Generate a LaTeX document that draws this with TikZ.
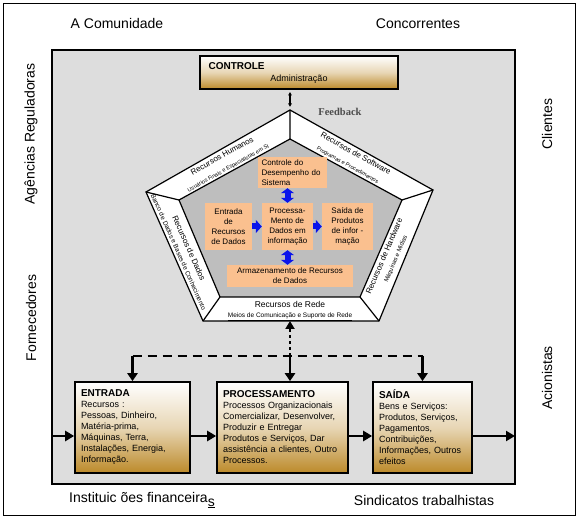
\documentclass[tikz,border=0pt]{standalone}
\usepackage{fontspec}
\setmainfont{Liberation Sans}
\newfontfamily\serifface{Liberation Serif}
\usetikzlibrary{arrows.meta}
\definecolor{bggray}{RGB}{221,221,221}
\definecolor{pentgray}{RGB}{190,190,190}
\definecolor{peach}{RGB}{250,192,143}
\definecolor{gold}{RGB}{188,138,42}
\definecolor{flowblue}{RGB}{10,20,235}

\begin{document}
\begin{tikzpicture}[x=1pt,y=-1pt]
        \tikzset{
    side/.style={font=\fontsize{14}{16}\selectfont},
    bandbig/.style={font=\fontsize{8}{9}\selectfont, inner sep=0pt},
    bandsmall/.style={font=\fontsize{5.5}{6}\selectfont, inner sep=0pt},
    peachbox/.style={fill=peach, align=center, inner sep=0pt, font=\fontsize{8}{10}\selectfont},
    stage/.style={draw, line width=1.6pt, top color=white, bottom color=gold, middle color=gold!35, align=left, inner xsep=6pt, minimum height=91pt, font=\fontsize{9}{11}\selectfont},
    flow/.style={line width=2.6pt, -{Triangle[length=9pt,width=10pt]}},
    dataflow/.style={line width=6pt, flowblue, -{Triangle[length=6pt,width=13pt]}},
    datadbl/.style={line width=6pt, flowblue, {Triangle[length=5pt,width=13pt]}-{Triangle[length=5pt,width=13pt]}},
    fbdash/.style={line width=2.6pt, dash pattern=on 9pt off 6pt},
    fbdot/.style={line width=2.8pt, dash pattern=on 3pt off 3pt, -{Triangle[length=8pt,width=9pt]}},
        }
        \useasboundingbox (0,0) rectangle (579,518);

        % Frame and the grey company area.
        \draw[line width=0.9pt] (3,3) rectangle (575,515);
        \draw[fill=bggray, line width=1.2pt] (52,50) rectangle (515,484);

        % The environment around it.
        \node[side] (comunidade) at (117,24) {A Comunidade};
        \node[side] (concorrentes) at (418,24) {Concorrentes};
        \node[side, rotate=90] (agencias) at (31,134) {Agências Reguladoras};
        \node[side, rotate=90] (fornecedores) at (31,318) {Fornecedores};
        \node[side, rotate=90] (clientes) at (547,124) {Clientes};
        \node[side, rotate=90] (acionistas) at (547,378) {Acionistas};
        \node[side] (instituicoes) at (142,500) {Instituic ões financeira\raisebox{-4pt}{\underline{s}}};
        \node[side] (sindicatos) at (424,500) {Sindicatos trabalhistas};

        % Control box on top.
        \node[draw, line width=1.6pt, top color=white, bottom color=gold, middle color=gold!35,
              minimum width=198pt, minimum height=33pt] (controle) at (299,72.5) {};
        \node[font=\bfseries\fontsize{10}{12}\selectfont, anchor=west] (controlehead) at (205,66) {CONTROLE};
        \node[font=\fontsize{9}{11}\selectfont] (admin) at (299,79.5) {Administração};
        \node[font=\serifface\bfseries\fontsize{10.5}{12}\selectfont, text=black!70] (feedback) at (340,112) {Feedback};

        \coordinate (oT) at (290,110);  % outer top
        \coordinate (oR) at (433,190);  % outer right
        \coordinate (oBR) at (379,321); % outer bottom right
        \coordinate (oBL) at (203,321); % outer bottom left
        \coordinate (oL) at (146,192);  % outer left
        \coordinate (iT) at (290,139);  % inner top
        \coordinate (iR) at (402,200);  % inner right
        \coordinate (iBR) at (360,297); % inner bottom right
        \coordinate (iBL) at (220,297); % inner bottom left
        \coordinate (iL) at (179,200);  % inner left
        \coordinate (oB) at (290,321);  % middle of the bottom side

        % Draw the pentagon ring first.
        \filldraw[fill=white, line width=1.2pt] (oT) -- (oR) -- (oBR) -- (oBL) -- (oL) -- cycle;
        \filldraw[fill=pentgray, line width=1.2pt] (iT) -- (iR) -- (iBR) -- (iBL) -- (iL) -- cycle;
        \draw[line width=1.2pt] (oT) -- (iT) (oR) -- (iR) (oBR) -- (iBR) (oBL) -- (iBL) (oL) -- (iL);

        % Resources written along the ring.
        \node[bandbig, rotate=29] (humanos) at (222,155.8) {Recursos Humanos};
        \node[bandsmall, rotate=29] (usuarios) at (228.5,168.5) {Usuários Finais e Especialistas em SI};
        \node[bandbig, rotate=-29] (software) at (356,153.5) {Recursos de Software};
        \node[bandsmall, rotate=-29] (programas) at (347.5,165.5) {Programas e Procedimentos};
        \node[bandsmall, font=\fontsize{6.5}{7}\selectfont, rotate=-66] (banco) at (178.5,252) {Banco de Dados e Bases de Conhecimento};
        \node[bandbig, rotate=-66] (dados) at (189,248) {Recursos de Dados};
        \node[bandbig, rotate=67] (hardware) at (384,256) {Recursos de Hardware};
        \node[bandsmall, font=\fontsize{6}{7}\selectfont, rotate=67] (maquinas) at (396,259) {Máquinas e Mídias};
        \node[bandbig, font=\fontsize{8.5}{9}\selectfont] (rede) at (290,304) {Recursos de Rede};
        \node[bandsmall, font=\fontsize{6.5}{7}\selectfont] (meios) at (290,316.5) {\underline{Meios de Comunicação e Suporte de Rede}};

        % Information system in the middle.
        \node[peachbox, minimum width=69pt, minimum height=31pt, align=left, text width=62pt] (ctrlsys) at (292.5,172.5) {Controle do\\Desempenho do\\Sistema};
        \node[peachbox, minimum width=47pt, minimum height=47pt] (entrada) at (228.5,226.5) {Entrada\\de\\Recursos\\de Dados};
        \node[peachbox, minimum width=51pt, minimum height=47pt] (processa) at (287.5,226.5) {Processa-\\Mento de\\Dados em\\informação};
        \node[peachbox, minimum width=51pt, minimum height=47pt] (saida) at (347.5,226.5) {Saída de\\Produtos\\de infor -\\mação};
        \node[peachbox, minimum width=126pt, minimum height=22pt] (armazena) at (290,276) {Armazenamento de Recursos\\de Dados};

        \draw[dataflow] (entrada) -- (processa);
        \draw[dataflow] (processa) -- (saida);
        \draw[datadbl] (processa.north) -- (processa.north |- ctrlsys.south);
        \draw[datadbl] (processa.south) -- (processa.south |- armazena.north);

        % The three stages of the company.
        \node[stage, text width=103pt] (entradaB) at (132.5,427.5) {{\bfseries\fontsize{10}{11}\selectfont ENTRADA}\\Recursos :\\Pessoas, Dinheiro,\\Matéria-prima,\\Máquinas, Terra,\\Instalações, Energia,\\Informação.};
        \node[stage, text width=119pt] (procB) at (282.5,427.5) {{\bfseries\fontsize{10}{11}\selectfont PROCESSAMENTO}\\Processos Organizacionais\\Comercializar, Desenvolver,\\Produzir e Entregar\\Produtos e Serviços, Dar\\assistência a clientes, Outro\\Processos.};
        \node[stage, text width=87pt] (saidaB) at (422.5,427.5) {{\bfseries\fontsize{10}{11}\selectfont SAÍDA}\\Bens e Serviços:\\Produtos, Serviços,\\Pagamentos,\\Contribuições,\\Informações, Outros\\efeitos};

        \coordinate (inW) at (52,436);  % left wall
        \coordinate (inE) at (515,436); % right wall
        \draw[flow] (inW) -- (inW -| entradaB.west);
        \draw[flow] (entradaB.east |- inW) -- (procB.west |- inW);
        \draw[flow] (procB.east |- inW) -- (saidaB.west |- inW);
        \draw[flow] (saidaB.east |- inW) -- (inE);

        % Feedback lines last.
        \draw[line width=1.3pt, shorten <=2pt, shorten >=3pt, {Latex[length=3.5pt,width=4pt]}-{Latex[length=3.5pt,width=4pt]}] (controle.south -| oT) -- (oT);
        \coordinate (fb) at (290,356);
        \draw[fbdot] (fb) -- (oB);
        \draw[fbdash] (fb -| entradaB.north) -- (fb -| saidaB.north);
        \draw[flow, -{Triangle[length=8pt,width=10pt]}] (fb -| entradaB.north) -- (entradaB.north);
        \draw[flow, -{Triangle[length=8pt,width=10pt]}] (fb) -- (fb |- procB.north);
        \draw[flow, -{Triangle[length=8pt,width=10pt]}] (fb -| saidaB.north) -- (saidaB.north);
      \end{tikzpicture}
\end{document}
